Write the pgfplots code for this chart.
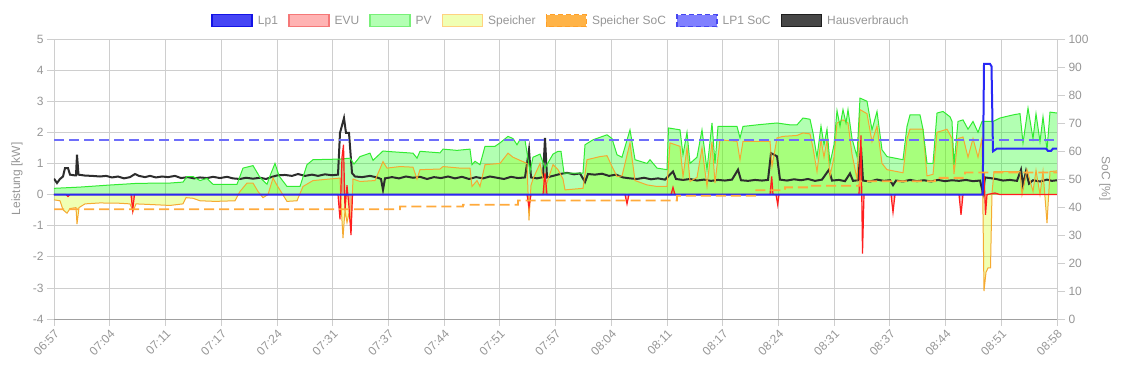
\documentclass[border=0pt]{standalone}
\usepackage{fontspec}
\setmainfont{Liberation Sans}
\usepackage{pgfplots}
\usepackage{pgfplotstable}
\pgfplotsset{compat=1.18}
\definecolor{txt}{RGB}{150,150,150}
\definecolor{gridc}{RGB}{206,206,206}
\definecolor{axc}{RGB}{160,160,160}
\definecolor{lpline}{RGB}{40,40,245}
\definecolor{evuline}{RGB}{255,30,30}
\definecolor{pvline}{RGB}{50,235,50}
\definecolor{spline}{RGB}{245,170,50}
\definecolor{ssoc}{RGB}{255,170,60}
\definecolor{lpsoc}{RGB}{110,110,250}
\definecolor{haus}{RGB}{45,45,45}
\definecolor{spfill}{RGB}{205,255,0}

\pgfplotstableread{
x y
54 0
982.7 0
984 4.2
990 4.2
991.5 4.12
993 1.39
997 1.48
1046 1.48
1048 1.4
1051 1.4
1053 1.48
1057 1.48
}\lpdata

\pgfplotstableread{
x y
54 0
66 0
68 -0.06
70 0
131 0
132.7 -0.5
134.5 0
338 0
340 -0.8
342 1.2
343.5 1.6
345 -0.5
347 0.3
349 -0.4
351 -1.3
352.5 0
527 0
529 -0.4
531 0
543 0
545 0.7
547 0
625 0
627 -0.3
629 0
671 0
673 0.23
675 0
770 0
771.7 0.58
773 0
776 0
777.7 -0.33
779 0
859 0
861 1.9
862.5 -1.9
864 0
891 0
893 -0.57
895 0
959 0
961 -0.65
963 0
982 0
984 0.7
985.5 -0.65
987 0
995 0.05
1000 0
1057 0
}\evudata

\pgfplotstableread{
x y
54 0.20
80 0.24
107 0.30
137 0.36
170 0.37
183 0.40
187 0.58
193 0.58
200 0.45
207 0.52
213 0.33
237 0.33
243 0.85
253 0.93
260 0.55
267 0.33
270 0.60
275 1.00
279 0.60
287 0.26
300 0.26
307 0.96
313 1.12
340 1.14
350 1.17
354 0.98
360 1.22
370 1.33
373 1.10
383 1.40
390 1.38
413 1.33
417 1.17
420 1.39
440 1.34
443 1.46
457 1.42
470 1.46
472 0.96
475 1.07
480 0.96
485 1.55
495 1.55
500 1.66
508 1.87
513 1.80
517 1.60
520 1.77
525 1.75
530 0.74
533 1.20
540 1.30
545 0.85
553 1.30
558 1.39
561 1.39
564 0.69
583 0.69
585 1.60
593 1.76
607 1.92
612 1.80
617 1.28
622 1.20
630 2.08
635 1.12
647 1.00
650 1.12
657 0.85
667 0.80
668.5 2.14
680 2.08
683 1.28
687 2.00
690 1.00
697 1.20
702 2.08
707 0.80
712 2.30
715 1.00
718 2.19
737 2.19
740 1.82
743 2.19
760 2.25
777 2.30
790 2.24
797 2.24
803 2.46
810 2.42
813 1.98
817 1.20
821 2.20
824 1.60
827 2.10
830 1.00
834 1.60
837 2.70
840 2.20
843 2.73
846 2.30
848 2.73
852 1.80
857 1.22
860 3.10
867 3.00
872 2.08
877 2.67
882 1.44
887 1.22
903 1.12
907 2.19
910 2.56
920 2.56
923 2.10
927 1.00
933 1.00
937 2.62
943 2.67
950 2.50
952 2.35
954 0.96
958 2.35
963 2.40
968 2.10
973 2.35
978 2.00
982 2.35
993 2.35
1000 2.46
1013 2.56
1020 2.60
1023 1.66
1028 2.78
1033 1.80
1036 2.60
1040 1.70
1043 2.50
1047 1.44
1050 2.65
1057 2.62
}\pvdata

\pgfplotstableread{
x y
54 -0.17
60 -0.20
63 -0.49
67 -0.60
70 -0.45
76 -0.42
77 -0.95
79 -0.42
85 -0.30
100 -0.27
120 -0.28
130 -0.30
133 -0.55
136 -0.30
150 -0.32
170 -0.35
183 -0.30
186 -0.10
193 -0.12
200 -0.20
215 -0.22
235 -0.20
240 0.10
247 0.37
253 0.37
258 0.10
263 -0.10
268 0.00
273 0.53
277 0.30
287 -0.22
297 -0.20
303 0.26
313 0.45
330 0.50
340 0.53
341 -0.30
343 -1.40
345 -0.50
347 -0.90
349 -0.60
351 -1.00
353 0.50
360 0.42
375 0.45
383 1.06
387 0.85
400 0.90
413 0.88
417 0.50
420 0.80
440 0.82
443 0.90
460 0.85
470 0.85
472 0.26
477 0.45
480 0.26
485 0.96
500 1.00
508 1.33
513 1.20
520 1.10
527 1.00
529 -0.83
531 0.30
533 0.50
540 1.00
545 0.20
553 0.96
558 0.80
563 0.50
565 0.15
583 0.20
587 1.12
600 1.22
607 1.25
612 0.90
617 0.58
622 0.60
630 1.66
635 0.45
647 0.31
657 0.26
667 0.26
670 1.66
680 1.55
683 0.58
687 1.50
690 0.42
697 0.55
702 1.50
707 0.26
712 1.70
715 0.37
720 1.76
737 1.71
740 1.12
743 1.71
770 1.71
772 0.90
777 1.82
783 1.87
797 1.90
803 1.98
810 1.95
813 1.50
817 0.74
821 1.76
824 1.20
827 1.76
830 0.60
834 1.20
837 2.30
843 2.40
848 2.30
852 1.30
857 0.50
860 2.73
867 2.60
872 1.70
877 2.20
882 1.00
887 0.80
903 0.70
907 1.80
910 2.10
923 2.10
927 0.60
933 0.65
937 2.00
947 2.10
952 1.80
954 0.66
958 1.80
963 1.85
968 1.20
973 1.80
978 1.20
982 1.80
984 -3.10
986 -2.50
988 -2.36
990.5 -2.36
992 0.05
994 0.74
1020 0.74
1022 0.00
1027 0.80
1033 0.10
1036 0.78
1040 0.00
1043 0.75
1047 -0.92
1050 0.74
1057 0.76
}\spdata

\pgfplotstableread{
x y
54 0.51
57 0.37
60 0.50
63 0.58
65 0.85
68 0.85
70 0.64
74 0.62
76 0.62
77 1.28
78.5 0.64
85 0.61
92 0.60
100 0.58
106 0.60
112 0.55
118 0.58
124 0.52
130 0.56
135 0.66
139 0.60
145 0.56
150 0.60
156 0.55
162 0.58
168 0.56
175 0.60
181 0.53
188 0.56
194 0.52
200 0.55
207 0.53
213 0.57
220 0.53
227 0.57
233 0.52
240 0.50
246 0.54
253 0.51
260 0.54
266 0.50
272 0.57
278 0.62
285 0.63
292 0.60
298 0.66
305 0.60
312 0.64
318 0.60
325 0.65
332 0.62
338 0.64
340 1.98
344 2.46
346 1.98
349 1.98
352 0.69
355 0.58
362 0.56
370 0.60
377 0.55
381 0.50
383 0.15
385 0.52
392 0.56
399 0.52
406 0.58
413 0.54
420 0.57
427 0.50
434 0.56
441 0.53
448 0.58
455 0.52
462 0.57
469 0.50
476 0.56
483 0.52
490 0.58
497 0.54
504 0.50
511 0.57
518 0.53
525 0.55
529 1.44
531 0.55
537 0.52
543 0.56
545 1.82
547 0.55
553 0.60
560 0.66
567 0.70
574 0.65
580 0.68
585 0.40
588 0.66
595 0.64
602 0.67
609 0.60
616 0.64
623 0.55
630 0.52
637 0.50
644 0.54
651 0.49
658 0.52
665 0.48
673 0.74
676 0.50
683 0.47
690 0.50
697 0.45
704 0.48
711 0.44
718 0.47
725 0.45
732 0.48
738 0.80
741 0.46
748 0.44
755 0.47
762 0.45
768 0.47
771 1.33
777 1.23
780 0.48
787 0.45
794 0.49
801 0.46
808 0.50
815 0.44
822 0.48
829 0.80
832 0.45
839 0.47
845 0.43
850 0.68
853 0.44
858 0.46
861 1.50
863 0.45
870 0.42
877 0.48
884 0.44
890 0.46
893 0.30
896 0.45
903 0.42
910 0.47
917 0.43
924 0.46
931 0.42
938 0.47
945 0.43
952 0.46
959 0.44
966 0.47
973 0.43
980 0.45
983 0.05
985 0.55
990 0.53
996 0.50
1003 0.45
1010 0.47
1017 0.44
1021 0.80
1023 0.30
1026 0.75
1029 0.35
1033 0.46
1040 0.42
1047 0.48
1052 0.44
1057 0.46
}\hausdata

\pgfplotstableread{
x y
54 39.2
400 39.2
400.1 40.2
463 40.2
463.1 40.8
518 40.8
518.1 42.3
677 42.3
677.1 44.0
755 44.0
755.1 46.0
785 46.0
785.1 47.0
812 47.0
812.1 47.6
860 47.6
860.1 49.2
935 49.2
935.1 50.4
965 50.4
965.1 52.3
1057 52.3
}\ssocdata

\pgfplotstableread{
x y
54 64
1057 64
}\lpsocdata

\begin{document}
\begin{tikzpicture}
\pgfplotsset{every axis/.append style={
  scale only axis, width=1003bp, height=280bp,
  xmin=54, xmax=1057,
  tick align=outside,
  ticklabel style={font=\fontsize{12bp}{14bp}\selectfont, text=txt},
  label style={font=\fontsize{12bp}{14bp}\selectfont, text=txt},
  /pgf/number format/assume math mode=true,
}}
\begin{axis}[name=main, at={(0,0)}, anchor=south west,
  ymin=-4, ymax=5,
  axis x line*=bottom, axis y line*=left,
  x axis line style={axc, line width=0.9bp, -},
  y axis line style={gridc, line width=0.75bp, -},
  xtick={54,109.72,165.44,221.17,276.89,332.61,388.33,444.06,499.78,555.5,611.22,666.94,722.67,778.39,834.11,889.83,945.56,1001.28,1057},
  xticklabels={06:57,07:04,07:11,07:17,07:24,07:31,07:37,07:44,07:51,07:57,08:04,08:11,08:17,08:24,08:31,08:37,08:44,08:51,08:58},
  ytick={-4,-3,-2,-1,0,1,2,3,4,5},
  yticklabels={-4,-3,-2,-1,0,1,2,3,4,5},
  grid=major, major grid style={gridc, line width=0.75bp},
  major tick length=7bp, tick style={gridc, line width=0.75bp},
  xticklabel style={rotate=45, anchor=north east, inner sep=2bp},
  ylabel={Leistung [kW]},
  ylabel style={at={(axis description cs:-0.0369,0.5)}, anchor=center, rotate=0},
]
\addplot[draw=none, fill=spfill, fill opacity=0.3, forget plot] table {\spdata} \closedcycle;
\addplot[draw=none, fill=green, fill opacity=0.3, forget plot] table {\pvdata} \closedcycle;
\addplot[draw=none, fill=red, fill opacity=0.3, forget plot] table {\evudata} \closedcycle;
\addplot[haus, line width=2bp, forget plot] table {\hausdata};
\addplot[spline, line width=1bp, forget plot] table {\spdata};
\addplot[pvline, line width=1bp, forget plot] table {\pvdata};
\addplot[evuline, line width=1.2bp, forget plot] table {\evudata};
\addplot[lpline, line width=2bp, forget plot] table {\lpdata};
\end{axis}

\begin{axis}[at={(0,0)}, anchor=south west,
  ymin=0, ymax=100,
  axis x line=none, axis y line*=right,
  y axis line style={gridc, line width=0.75bp, -},
  ytick={0,10,...,100},
  major tick length=8bp, tick style={gridc, line width=0.75bp},
  ylabel={SoC [\%]},
  ylabel style={at={(axis description cs:1.0479,0.5)}, anchor=center, rotate=180},
  legend columns=-1,
  legend image code/.code={\draw[#1] (0bp,-6bp) rectangle (40bp,6bp);},
  legend style={draw=none, fill=none, at={(0.5,1)}, anchor=south, yshift=10bp, xshift=6bp,
    font=\fontsize{12bp}{14bp}\selectfont, text=txt, inner sep=0pt,
    nodes={inner sep=3bp},
    /tikz/every odd column/.append style={column sep=2bp},
    /tikz/every even column/.append style={column sep=7bp}},
]
\addlegendimage{draw={rgb,255:red,20;green,20;blue,230}, fill={rgb,255:red,70;green,70;blue,245}, line width=1.5bp}
\addlegendentry{Lp1}
\addlegendimage{draw={rgb,255:red,245;green,120;blue,120}, fill={rgb,255:red,255;green,179;blue,179}, line width=1.5bp}
\addlegendentry{EVU}
\addlegendimage{draw={rgb,255:red,120;green,240;blue,120}, fill={rgb,255:red,179;green,255;blue,179}, line width=1.5bp}
\addlegendentry{PV}
\addlegendimage{draw={rgb,255:red,255;green,210;blue,128}, fill={rgb,255:red,240;green,255;blue,179}, line width=1.5bp}
\addlegendentry{Speicher}
\addlegendimage{draw={rgb,255:red,255;green,160;blue,40}, fill={rgb,255:red,255;green,179;blue,71}, line width=1.5bp, dash pattern=on 5bp off 3bp}
\addlegendentry{Speicher SoC}
\addlegendimage{draw={rgb,255:red,70;green,70;blue,240}, fill={rgb,255:red,128;green,128;blue,255}, line width=1.5bp, dash pattern=on 5bp off 3bp}
\addlegendentry{LP1 SoC}
\addlegendimage{draw={rgb,255:red,30;green,30;blue,30}, fill={rgb,255:red,71;green,71;blue,71}, line width=1.5bp}
\addlegendentry{Hausverbrauch}
\addplot[ssoc, line width=1.8bp, dash pattern=on 10bp off 5bp, forget plot] table {\ssocdata};
\addplot[lpsoc, line width=1.8bp, dash pattern=on 10bp off 5bp, forget plot] table {\lpsocdata};
\end{axis}
\pgfresetboundingbox
\path ([xshift=-54bp, yshift=-46bp]main.south west) rectangle ([xshift=74bp, yshift=39bp]main.north east);
\end{tikzpicture}
\end{document}
